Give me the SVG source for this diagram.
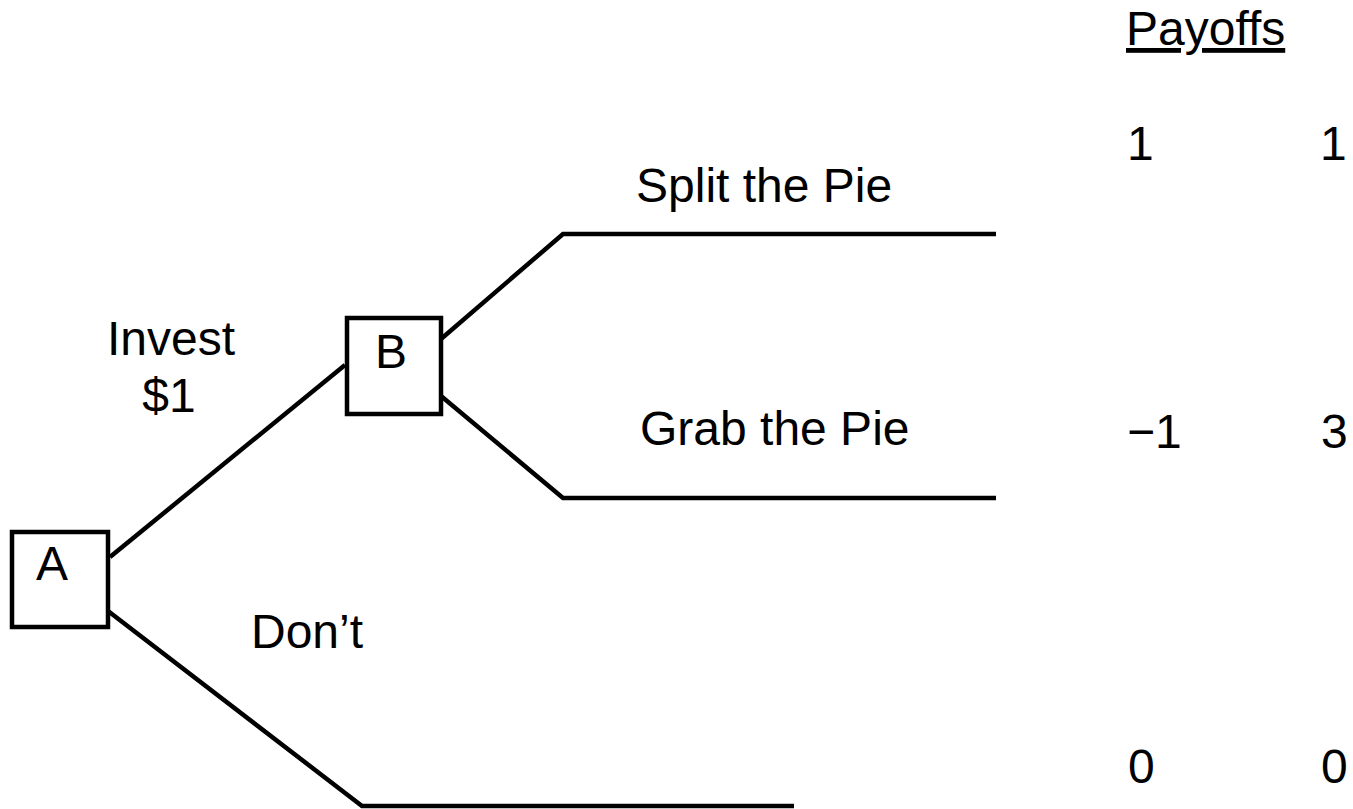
<svg xmlns="http://www.w3.org/2000/svg" width="1353" height="809" viewBox="0 0 1353 809">
<style>
text{font-family:"Liberation Sans",Arial,sans-serif;font-size:48px;fill:#000}
.box{fill:#fff;stroke:#000;stroke-width:4.5}
.edge{fill:none;stroke:#000;stroke-width:4.5}
</style>
<rect width="1353" height="809" fill="#fff"/>
<g id="connectors">
<path class="edge" d="M110,557 L345,365"/>
<path class="edge" d="M441,339 L563,234 L996,234"/>
<path class="edge" d="M441,396 L563,498 L996,498"/>
<path class="edge" d="M108,611 L362,806 L794,806"/>
</g>
<g id="node-A">
<rect class="box" x="12" y="532" width="96" height="95"/>
<text x="36" y="580">A</text>
</g>
<g id="node-B">
<rect class="box" x="347" y="318" width="94" height="96"/>
<text x="375" y="368">B</text>
</g>
<g id="labels">
<text x="171" y="355" text-anchor="middle">Invest</text>
<text x="169" y="412" text-anchor="middle">$1</text>
<text x="636" y="202">Split the Pie</text>
<text x="640" y="445">Grab the Pie</text>
<text x="251" y="648">Don’t</text>
</g>
<g id="payoffs">
<text x="1126" y="45" text-decoration="underline">Payoffs</text>
<text x="1127" y="160">1</text>
<text x="1320" y="160">1</text>
<text x="1127" y="448">−1</text>
<text x="1321" y="448">3</text>
<text x="1128" y="783">0</text>
<text x="1321" y="783">0</text>
</g>
</svg>
